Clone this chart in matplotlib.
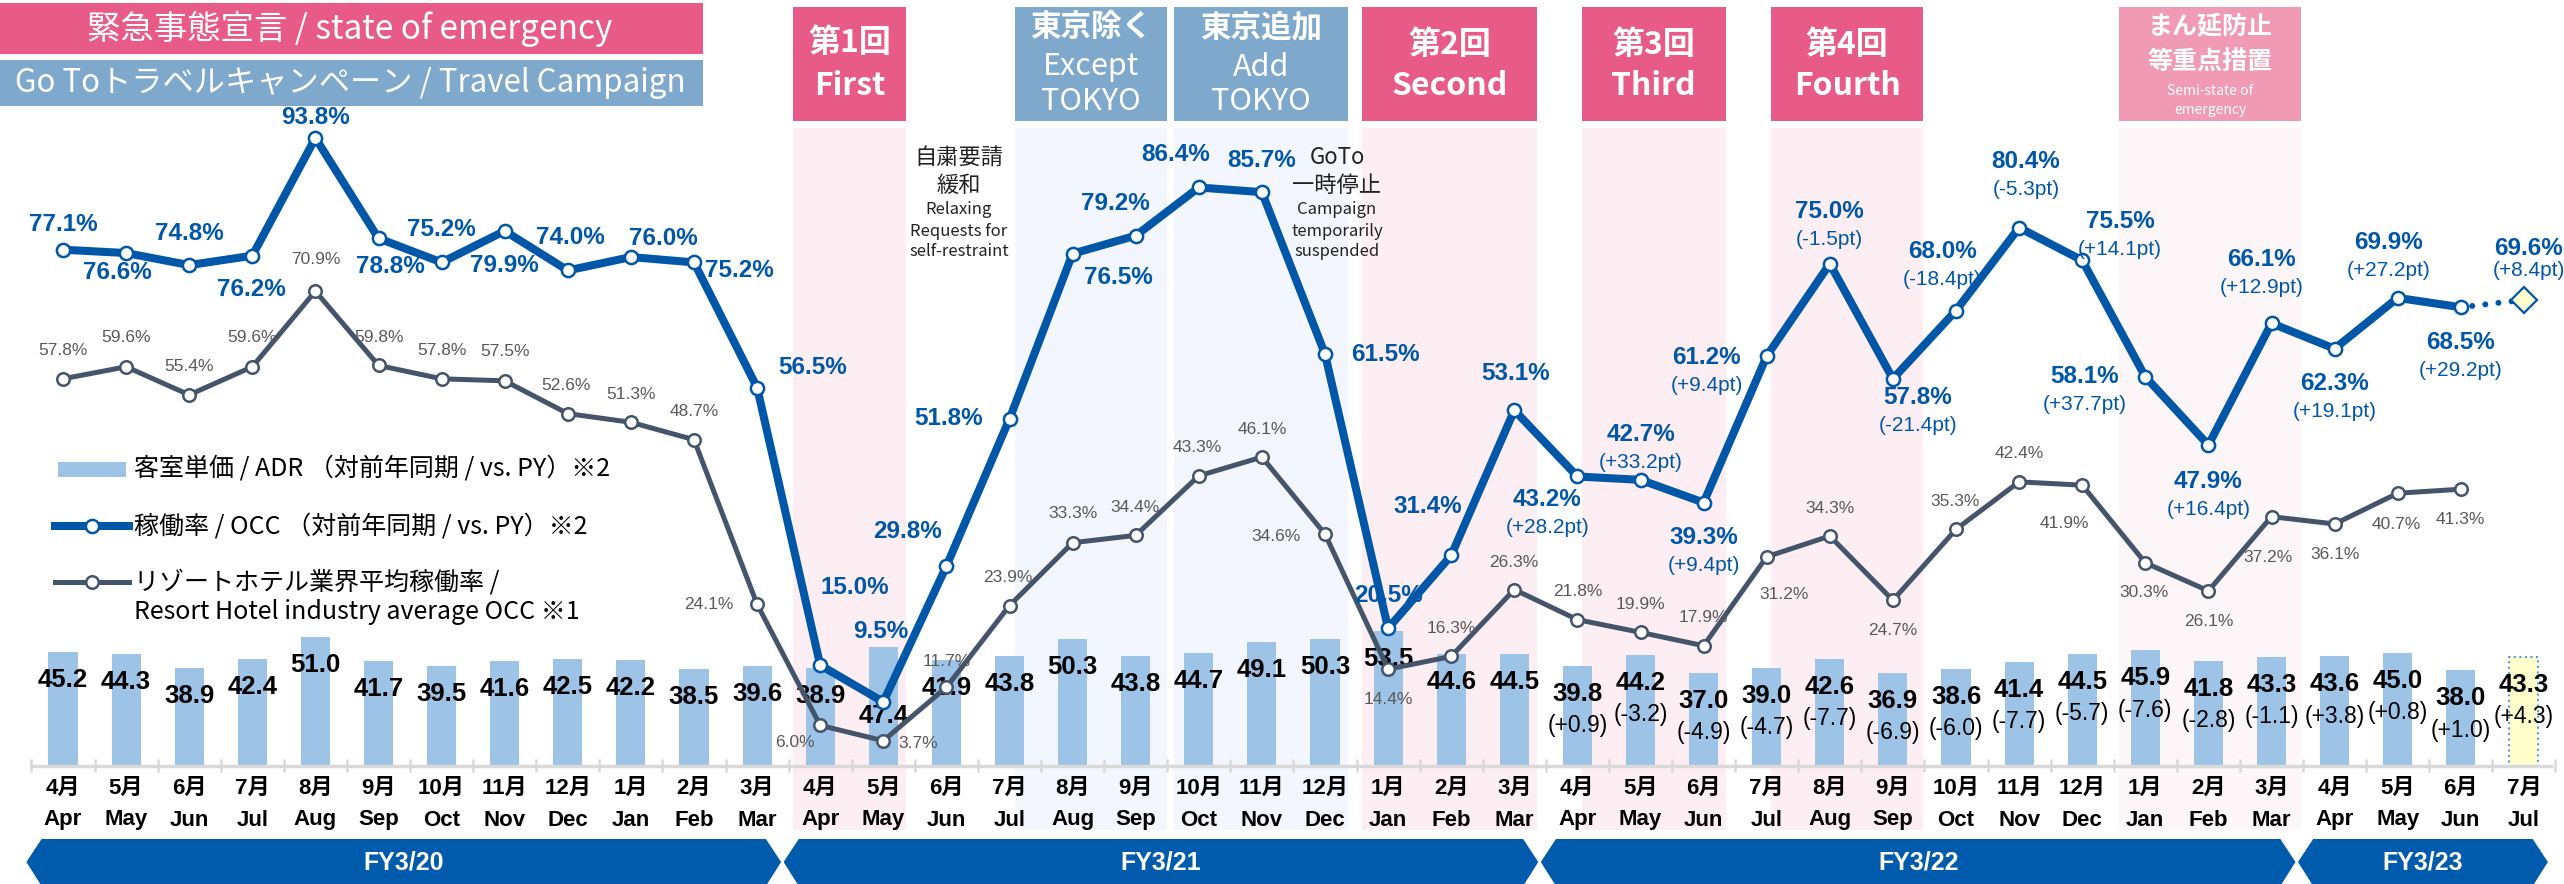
import matplotlib
matplotlib.use('Agg')
import matplotlib.pyplot as plt
from matplotlib.patches import Rectangle, Polygon
from matplotlib.lines import Line2D
from matplotlib.transforms import blended_transform_factory

# ---------------- data ----------------
fy_names = ['FY3/20', 'FY3/21', 'FY3/22', 'FY3/23']
fy_first = [0, 12, 24, 36]
fy_last = [11, 23, 35, 39]

month_jp = ['4月', '5月', '6月', '7月', '8月', '9月', '10月', '11月', '12月', '1月', '2月', '3月',
            '4月', '5月', '6月', '7月', '8月', '9月', '10月', '11月', '12月', '1月', '2月', '3月',
            '4月', '5月', '6月', '7月', '8月', '9月', '10月', '11月', '12月', '1月', '2月', '3月',
            '4月', '5月', '6月', '7月']
month_en = ['Apr', 'May', 'Jun', 'Jul', 'Aug', 'Sep', 'Oct', 'Nov', 'Dec', 'Jan', 'Feb', 'Mar',
            'Apr', 'May', 'Jun', 'Jul', 'Aug', 'Sep', 'Oct', 'Nov', 'Dec', 'Jan', 'Feb', 'Mar',
            'Apr', 'May', 'Jun', 'Jul', 'Aug', 'Sep', 'Oct', 'Nov', 'Dec', 'Jan', 'Feb', 'Mar',
            'Apr', 'May', 'Jun', 'Jul']

# ADR (bars) and its change vs. previous year from FY3/22 on
adr = [45.2, 44.3, 38.9, 42.4, 51.0, 41.7, 39.5, 41.6, 42.5, 42.2, 38.5, 39.6,
       38.9, 47.4, 41.9, 43.8, 50.3, 43.8, 44.7, 49.1, 50.3, 53.5, 44.6, 44.5,
       39.8, 44.2, 37.0, 39.0, 42.6, 36.9, 38.6, 41.4, 44.5, 45.9, 41.8, 43.3,
       43.6, 45.0, 38.0, 43.3]
adr_yoy = [0.9, -3.2, -4.9, -4.7, -7.7, -6.9, -6.0, -7.7, -5.7, -7.6, -2.8, -1.1,
           3.8, 0.8, 1.0, 4.3]

# OCC (%) and change vs. previous year (pt) from FY3/22 on
occ = [77.1, 76.6, 74.8, 76.2, 93.8, 78.8, 75.2, 79.9, 74.0, 76.0, 75.2, 56.5,
       15.0, 9.5, 29.8, 51.8, 76.5, 79.2, 86.4, 85.7, 61.5, 20.5, 31.4, 53.1,
       43.2, 42.7, 39.3, 61.2, 75.0, 57.8, 68.0, 80.4, 75.5, 58.1, 47.9, 66.1,
       62.3, 69.9, 68.5]
occ_yoy = [28.2, 33.2, 9.4, 9.4, -1.5, -21.4, -18.4, -5.3, 14.1, 37.7, 16.4, 12.9,
           19.1, 27.2, 29.2]
occ_forecast = 69.6
occ_forecast_yoy = 8.4

# resort hotel industry average OCC (%)
resort = [57.8, 59.6, 55.4, 59.6, 70.9, 59.8, 57.8, 57.5, 52.6, 51.3, 48.7, 24.1,
          6.0, 3.7, 11.7, 23.9, 33.3, 34.4, 43.3, 46.1, 34.6, 14.4, 16.3, 26.3,
          21.8, 19.9, 17.9, 31.2, 34.3, 24.7, 35.3, 42.4, 41.9, 30.3, 26.1, 37.2,
          36.1, 40.7, 41.3]

# ---------------- layout ----------------
W, H = 2564, 884
X0, DX = 63, 63.1          # pixel x of first month, pixel per month
BASE = 765.5               # pixel y of zero line
PCT_PX, ADR_PX = 6.69, 2.51

# label offsets in pixels (dx, dy downwards)
occ_off = [(0, -25), (-9, 19), (0, -32), (-1, 34), (0, -20), (12, 28), (0, -33), (0, 35),
           (3, -33), (32, -19), (45, 8), (56, -20),
           (35, -78), (-3, -70), (-39, -35), (-61, 0), (46, 24), (-20, -32), (-23, -33), (0, -32),
           (60, 0), (0, -33), (-23, -49), (1, -37),
           (-30, 23), (0, -45), (0, 35), (-60, 1), (0, -52), (25, 19), (-14, -59), (7, -66),
           (38, -39), (-61, 0), (0, 36), (-10, -64),
           (0, 35), (-9, -55), (0, 35)]
resort_off = [(0, -28), (0, -29), (0, -28), (0, -29), (0, -32), (1, -28), (0, -28), (0, -29),
              (-2, -28), (0, -28), (0, -28), (-48, 0),
              (-25, 17), (35, 3), (0, -26), (-2, -28), (0, -29), (-1, -28), (-2, -28), (0, -28),
              (-49, 2), (0, 30), (0, -28), (-1, -27),
              (0, -28), (0, -28), (0, -28), (17, 38), (0, -28), (0, 30), (-1, -28), (0, -28),
              (-18, 38), (-1, 30), (0, 31), (-4, 41),
              (0, 31), (-1, 31), (0, 30)]

PINK = '#E85A87'
PINK_L = '#F09AB5'
BLUE_H = '#7EA8CC'
OCC_C = '#0057A8'
IND_C = '#44546A'
BAR_C = '#9DC3E6'
FY_C = '#005BAC'
GRAY_T = '#595959'

CJK = ['Noto Sans CJK JP', 'DejaVu Sans']
NUM = ['Liberation Sans', 'Noto Sans CJK JP']
plt.rcParams['font.family'] = CJK

fig = plt.figure(figsize=(W / 100, H / 100), dpi=100)
axb = fig.add_axes([0, 0, 1, 1])
axb.set_xlim(-X0 / DX, (W - X0) / DX)
axb.set_ylim(-(H - BASE) / ADR_PX, BASE / ADR_PX)
axb.set_axis_off()
ax = axb.twinx()
ax.set_ylim(-(H - BASE) / PCT_PX, BASE / PCT_PX)
ax.set_axis_off()


def fy(y):
    return 1 - y / H


def fx(x):
    return x / W


tr = blended_transform_factory(axb.transData, fig.transFigure)

# event bands: (start, end, header colour, body colour, header lines)
events = [
    (11.57, 13.36, PINK, '#FDEEF3', [('第1回', 43, 23, 'bold'), ('First', 86, 23, 'bold')]),
    (15.09, 17.50, BLUE_H, '#F3F6FC', [('東京除く', 27, 22, 'bold'), ('Except', 67, 22, 'normal'),
                                       ('TOKYO', 102, 22, 'normal')]),
    (17.61, 20.36, BLUE_H, '#F3F6FC', [('東京追加', 27, 22, 'bold'), ('Add', 67, 22, 'normal'),
                                       ('TOKYO', 102, 22, 'normal')]),
    (20.59, 23.36, PINK, '#FDEEF3', [('第2回', 45, 23, 'bold'), ('Second', 86, 23, 'bold')]),
    (24.07, 26.35, PINK, '#FDEEF3', [('第3回', 45, 23, 'bold'), ('Third', 86, 23, 'bold')]),
    (27.07, 29.48, PINK, '#FDEEF3', [('第4回', 45, 23, 'bold'), ('Fourth', 86, 23, 'bold')]),
    (32.58, 35.47, PINK_L, '#FDF6F9', [('まん延防止', 27, 18, 'bold'), ('等重点措置', 63, 18, 'bold'),
                                       ('Semi-state of', 91, 10, 'normal'), ('emergency', 110, 10, 'normal')]),
]
for s, e, hc, bc, lines in events:
    axb.add_patch(Rectangle((s, fy(830)), e - s, fy(128) - fy(830), transform=tr,
                            facecolor=bc, lw=0, zorder=0))
    axb.add_patch(Rectangle((s, fy(121)), e - s, fy(7) - fy(121), transform=tr,
                            facecolor=hc, lw=0, zorder=1))
    for txt, y, size, wt in lines:
        axb.text((s + e) / 2, fy(y), txt, transform=tr, ha='center', va='center',
                 fontsize=size, fontweight=wt, color='white', zorder=2)

# notes
notes = [(14.2, [('自粛要請', 157, 16), ('緩和', 185, 16), ('Relaxing', 210, 12),
                 ('Requests for', 231, 12), ('self-restraint', 252, 12)]),
         (20.19, [('GoTo', 157, 16), ('一時停止', 185, 16), ('Campaign', 210, 12),
                  ('temporarily', 231, 12), ('suspended', 252, 12)])]
for xc, lines in notes:
    for txt, y, size in lines:
        axb.text(xc, fy(y), txt, transform=tr, ha='center', va='center', fontsize=size,
                 color='#222222', zorder=2)

# baseline with boundary ticks
axb.plot([-0.52, 39.46], [0, 0], color='#D9D9D9', lw=2.5, zorder=3, solid_capstyle='butt')
axb.vlines([i + 0.5 for i in range(-1, 40)], -2.4, 2.4, color='#D9D9D9', lw=1.8, zorder=3)

# bars
x = list(range(len(adr)))
bars = axb.bar(x, adr, width=0.46, color=BAR_C, zorder=2)
bars[-1].set_facecolor('#FFFFCC')
bars[-1].set_edgecolor('#5B9BD5')
bars[-1].set_linestyle(':')
bars[-1].set_linewidth(1.5)

for i, v in enumerate(adr):
    dy = 69 if i == 13 else 28
    axb.annotate(f'{v:.1f}', (i, v), xytext=(0, -dy), textcoords='offset pixels',
                 ha='center', va='center', fontsize=18.5, fontweight='bold', family=NUM,
                 color='black', zorder=4)
for k, d in enumerate(adr_yoy):
    i = 24 + k
    axb.annotate(f'({d:+.1f})', (i, adr[i]), xytext=(0, -60), textcoords='offset pixels',
                 ha='center', va='center', fontsize=16.5, family=NUM, color='black', zorder=4)

# month labels
for i in x:
    axb.text(i, fy(788), month_jp[i], transform=tr, ha='center', va='center',
             fontsize=16, fontweight='bold', family=NUM, color='black')
    axb.text(i, fy(820), month_en[i], transform=tr, ha='center', va='center',
             fontsize=16, fontweight='bold', family=NUM, color='black')

# fiscal year arrows
for name, a, b in zip(fy_names, fy_first, fy_last):
    lt, rt, d = a - 0.58, b + 0.38, 0.24
    pts = [(lt, fy(862)), (lt + d, fy(839)), (rt - d, fy(839)), (rt, fy(862)),
           (rt - d, fy(886)), (lt + d, fy(886))]
    axb.add_patch(Polygon(pts, closed=True, transform=tr, facecolor=FY_C, lw=0, zorder=2,
                          clip_on=False))
    axb.text((lt + rt) / 2, fy(862), name, transform=tr, ha='center', va='center',
             fontsize=18, fontweight='bold', family=NUM, color='white', zorder=3)

# lines
xo = list(range(len(occ)))
ax.plot(range(len(resort)), resort, color=IND_C, lw=3.6, marker='o', ms=9, mfc='white',
        mec=IND_C, mew=1.8, zorder=4)
ax.plot([xo[-1], xo[-1] + 1], [occ[-1], occ_forecast], color=OCC_C, lw=4.3,
        ls=(2.5, (0.01, 2.2)), dash_capstyle='round', zorder=4)
ax.plot(xo, occ, color=OCC_C, lw=5.8, marker='o', ms=9.5, mfc='white', mec=OCC_C,
        mew=1.8, zorder=5)
ax.plot([xo[-1] + 1], [occ_forecast], marker='D', ms=13.5, mfc='#FFFFCC', mec=OCC_C,
        mew=1.6, zorder=5, ls='none')

for i, v in enumerate(resort):
    dx, dy = resort_off[i]
    ax.annotate(f'{v:.1f}%', (i, v), xytext=(dx, -dy), textcoords='offset pixels',
                ha='center', va='center', fontsize=12.5, family=NUM, color=GRAY_T, zorder=7)

for i, v in enumerate(occ):
    dx, dy = occ_off[i]
    ax.annotate(f'{v:.1f}%', (i, v), xytext=(dx, -dy), textcoords='offset pixels',
                ha='center', va='center', fontsize=17.5, fontweight='bold', family=NUM,
                color=OCC_C, zorder=8)
    if i >= 24:
        d = occ_yoy[i - 24]
        ax.annotate(f'({d:+.1f}pt)', (i, v), xytext=(dx, -(dy + 28)), textcoords='offset pixels',
                    ha='center', va='center', fontsize=15, family=NUM, color=OCC_C, zorder=8)
ax.annotate(f'{occ_forecast:.1f}%', (39, occ_forecast), xytext=(5, 51), textcoords='offset pixels',
            ha='center', va='center', fontsize=17.5, fontweight='bold', family=NUM,
            color=OCC_C, zorder=8)
ax.annotate(f'({occ_forecast_yoy:+.1f}pt)', (39, occ_forecast), xytext=(5, 29),
            textcoords='offset pixels', ha='center', va='center', fontsize=15, family=NUM,
            color=OCC_C, zorder=8)

# top-left title boxes
fig.add_artist(Rectangle((0, fy(54)), fx(703), fy(3) - fy(54), facecolor=PINK, lw=0,
                         transform=fig.transFigure))
fig.text(fx(350), fy(29), '緊急事態宣言 / state of emergency', ha='center', va='center',
         fontsize=24, color='white')
fig.add_artist(Rectangle((0, fy(106)), fx(703), fy(60) - fy(106), facecolor=BLUE_H, lw=0,
                         transform=fig.transFigure))
fig.text(fx(350), fy(83), 'Go Toトラベルキャンペーン / Travel Campaign', ha='center', va='center',
         fontsize=22.5, color='white')

# legend
fig.add_artist(Rectangle((fx(58), fy(477)), fx(68), fy(462) - fy(477), facecolor=BAR_C, lw=0,
                         transform=fig.transFigure))
fig.add_artist(Line2D([fx(55), fx(129)], [fy(526), fy(526)], color=OCC_C, lw=5.8,
                      transform=fig.transFigure))
fig.add_artist(Line2D([fx(92)], [fy(526)], marker='o', ms=9.5, mfc='white', mec=OCC_C, mew=1.8,
                      transform=fig.transFigure))
fig.add_artist(Line2D([fx(55), fx(129)], [fy(582), fy(582)], color=IND_C, lw=3.6,
                      transform=fig.transFigure))
fig.add_artist(Line2D([fx(92)], [fy(582)], marker='o', ms=9, mfc='white', mec=IND_C, mew=1.8,
                      transform=fig.transFigure))
legend_txt = [('客室単価 / ADR （対前年同期 / vs. PY）※2', 468),
              ('稼働率 / OCC （対前年同期 / vs. PY）※2', 526),
              ('リゾートホテル業界平均稼働率 /', 582),
              ('Resort Hotel industry average OCC ※1', 612)]
for txt, y in legend_txt:
    fig.text(fx(134), fy(y), txt, ha='left', va='center', fontsize=18, color='black')

fig.savefig('out.png', dpi=100)
